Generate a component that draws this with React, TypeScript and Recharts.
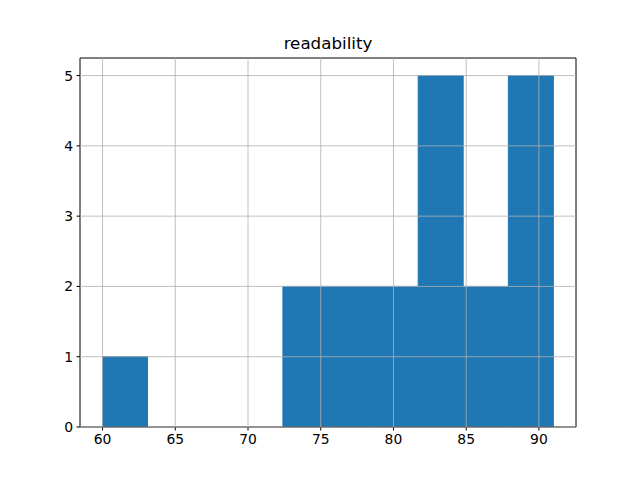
import React from 'react';
import { ComposedChart, Bar, XAxis, YAxis, CartesianGrid, ReferenceLine } from 'recharts';

// histogram of readability scores, 10 bins between 60 and 91
const binEdges = [60, 63.1, 66.2, 69.3, 72.4, 75.5, 78.6, 81.7, 84.8, 87.9, 91];
const counts = [1, 0, 0, 0, 2, 2, 2, 5, 2, 5];
const xTicks = [60, 65, 70, 75, 80, 85, 90];
const yTicks = [0, 1, 2, 3, 4, 5];

const xDomain = [58.45, 92.55];
const yDomain = [0, 5.25];

const data = counts.map((count, i) => ({
  mid: (binEdges[i] + binEdges[i + 1]) / 2,
  count,
}));

const font = 'DejaVu Sans, sans-serif';
const tickStyle = { fill: '#000', fontSize: 13.9, fontFamily: font };

export default function App() {
  return (
    <div style={{ position: 'absolute', left: 0, top: 0, width: 640, height: 480, background: '#fff' }}>
      <ComposedChart
        width={640}
        height={480}
        data={data}
        margin={{ top: 58, right: 64, left: 0, bottom: 0 }}
        barCategoryGap={0}
        barGap={0}
      >
        <XAxis
          dataKey="mid"
          type="number"
          domain={xDomain}
          ticks={xTicks}
          height={53}
          tickSize={3.5}
          tickMargin={3.5}
          tick={tickStyle}
          axisLine={{ stroke: '#000', strokeWidth: 1 }}
          tickLine={{ stroke: '#000' }}
          allowDataOverflow
        />
        <YAxis
          type="number"
          domain={yDomain}
          ticks={yTicks}
          width={80}
          tickSize={3.5}
          tickMargin={3.5}
          tick={tickStyle}
          axisLine={{ stroke: '#000', strokeWidth: 1 }}
          tickLine={{ stroke: '#000' }}
          allowDataOverflow
        />
        <Bar dataKey="count" fill="#1f77b4" stroke="#1f77b4" strokeWidth={1} isAnimationActive={false} />
        <CartesianGrid
          stroke="#b0b0b0"
          strokeWidth={0.8}
          horizontalValues={yTicks}
          verticalValues={xTicks}
          zIndex={500}
        />
        {/* top and right spines */}
        <ReferenceLine y={yDomain[1]} stroke="#000" strokeWidth={1} />
        <ReferenceLine x={xDomain[1]} stroke="#000" strokeWidth={1} />
      </ComposedChart>
      <svg width={640} height={480} style={{ position: 'absolute', left: 0, top: 0, pointerEvents: 'none' }}>
        <text x={328} y={49} textAnchor="middle" fontFamily={font} fontSize={16.7} fill="#000">
          readability
        </text>
      </svg>
    </div>
  );
}
